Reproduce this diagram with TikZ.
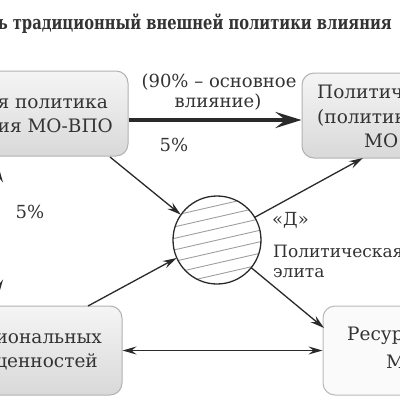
\documentclass[tikz,border=0pt]{standalone}
\usepackage{fontspec}
\setmainfont{DejaVu Serif}
\usetikzlibrary{arrows.meta}
\definecolor{ink}{HTML}{2A2A2A}
\definecolor{txtc}{HTML}{333333}
\begin{document}
\begin{tikzpicture}[x=1pt,y=-1pt,
  box/.style={draw=gray!60, line width=1pt, rounded corners=12pt, top color=gray!8, bottom color=gray!30, inner sep=0pt},
  lightbox/.style={draw=gray!55, line width=1pt, rounded corners=12pt, fill=gray!4, inner sep=0pt},
  txt/.style={font=\fontsize{18.5}{24}\selectfont, text=txtc, inner sep=0pt},
  lbl/.style={font=\fontsize{18}{22}\selectfont, text=txtc, inner sep=0pt},
  arr/.style={draw=ink, line width=1.3pt, -{Stealth[length=14pt,width=8pt,inset=5pt]}},
  darr/.style={draw=ink, line width=1.3pt, {Stealth[length=14pt,width=8pt,inset=5pt]}-{Stealth[length=14pt,width=8pt,inset=5pt]}},
  thick arr/.style={draw=ink, line width=4pt, -{Stealth[length=26pt,width=16pt,inset=10pt]}},
  hatch/.style={draw=gray!75, line width=0.9pt}
]
\useasboundingbox (0,0) rectangle (400,400);
\clip (0,0) rectangle (400,400);
\fill[white] (0,0) rectangle (400,400);

% title
\node[anchor=base east, inner sep=0pt, text=txtc] (title) at (392,29)
  {\resizebox{394pt}{!}{\scalebox{1}[1.3]{\bfseries ь традиционный внешней политики влияния}}};

% boxes
\node[box, minimum width=188pt, minimum height=85pt] (tl) at (34,113.5) {};
\node[box, minimum width=198pt, minimum height=85pt] (tr) at (401,115.5) {};
\node[box, minimum width=182pt, minimum height=89pt] (bl) at (31,350.5) {};
\node[lightbox, minimum width=196pt, minimum height=89pt] (br) at (421,350.5) {};

% box texts
\node[txt, anchor=base east] (tl1) at (108,108) {ия политика};
\node[txt, anchor=base east] (tl2) at (113,132) {ия МО-ВПО};
\node[txt, anchor=base west] (tr1) at (317,98) {Политическая};
\node[txt, anchor=base west] (tr2) at (317,123) {(политики};
\node[txt, anchor=base west] (tr3) at (364,147) {МО};
\node[txt, anchor=base east] (bl1) at (102,343) {иональных};
\node[txt, anchor=base east] (bl2) at (98,367) {ценностей};
\node[txt, anchor=base west] (br1) at (347,340) {Ресурсы};
\node[txt, anchor=base west] (br2) at (386,368) {МО};

% circle with hatching
\node[circle, minimum size=88pt, inner sep=0pt] (c) at (217,240) {};
\begin{scope}
  \clip (217,240) circle (44);
  \foreach \k in {-5,...,5}
    \draw[hatch] (165,{240+\k*11.5+12}) -- (270,{240+\k*11.5-12});
\end{scope}
\draw[ink, line width=1.3pt] (c) circle (44);

% labels
\node[lbl, anchor=base] (l90a) at (219,87) {(90\% – основное};
\node[lbl, anchor=base] (l90b) at (218,107) {влияние)};
\node[lbl, anchor=base] (p5a) at (174,151) {5\%};
\node[lbl, anchor=base] (p5b) at (30,218) {5\%};
\node[lbl, anchor=base west] (ld) at (272,225) {«Д»};
\node[lbl, anchor=base west, font=\fontsize{17}{22}\selectfont] (le1) at (273,257) {Политическая};
\node[lbl, anchor=base west, font=\fontsize{17}{22}\selectfont] (le2) at (273,277) {элита};

% coordinates
\coordinate (ty) at (0,120);
\coordinate (s1) at (110,157);
\coordinate (s2) at (88,306);
\coordinate (e3) at (363,158);
\coordinate (e4) at (324,328);
\coordinate (lx) at (-1,0);

% connectors
\draw[thick arr] (tl.east |- ty) -- (tr.west |- ty);
\draw[arr] (s1) -- (c.145);
\draw[arr] (s2) -- (c.204);
\draw[arr] (c.31) -- (e3);
\draw[arr] (c.-39) -- (e4);
\draw[darr] (bl.east) -- (br.west);
\draw[darr, shorten <=12pt, shorten >=12pt] (tl.south -| lx) -- (bl.north -| lx);
\end{tikzpicture}
\end{document}
